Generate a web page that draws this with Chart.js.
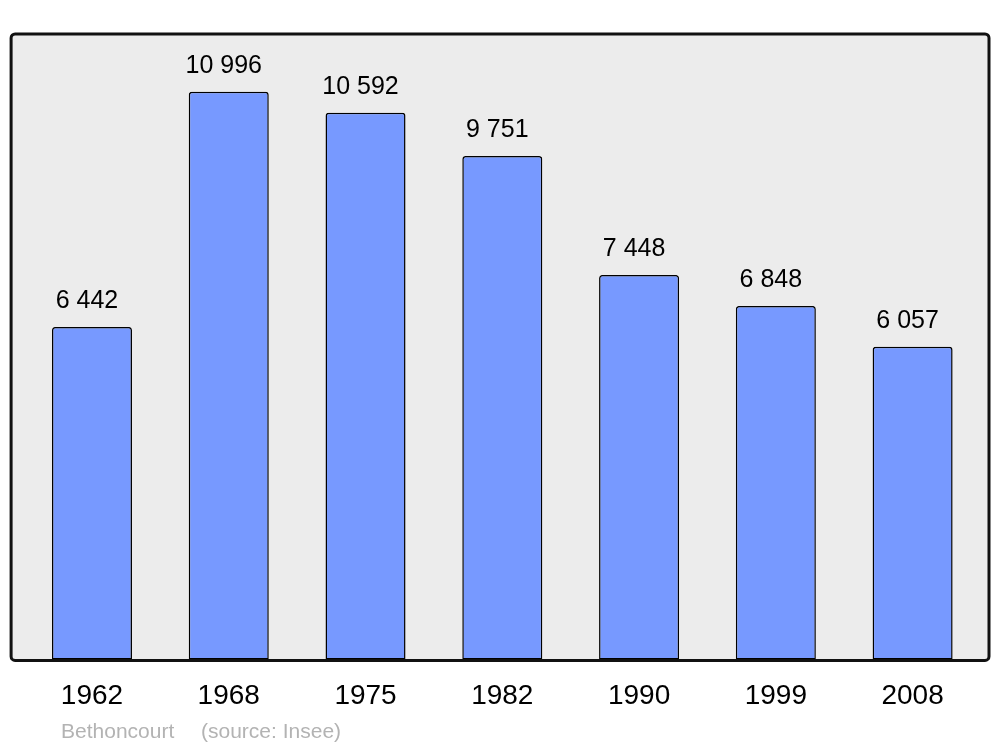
<!DOCTYPE html>
<html>
<head>
<meta charset="utf-8">
<title>Bethoncourt population</title>
<script src="https://cdn.jsdelivr.net/npm/chart.js@4/dist/chart.umd.min.js"></script>
<style>
  html, body { margin: 0; padding: 0; background: #fff; }
  #wrap { width: 1000px; height: 747px; position: relative; }
</style>
</head>
<body>
<div id="wrap"><canvas id="popChart"></canvas></div>
<script>
const years = ['1962', '1968', '1975', '1982', '1990', '1999', '2008'];
const population = [6442, 10996, 10592, 9751, 7448, 6848, 6057];
const footerName = 'Bethoncourt';
const footerSource = '(source: Insee)';

function formatNumber(n) {
    return String(n).replace(/\B(?=(\d{3})+(?!\d))/g, ' ');
}

// grey rounded frame behind the bars
const framePlugin = {
    id: 'frame',
    beforeDraw(chart) {
        const { ctx, chartArea } = chart;
        const x0 = chartArea.left - 12.5, x1 = chartArea.right + 8;
        const y0 = chartArea.top - 6, y1 = chartArea.bottom + 1;
        ctx.save();
        ctx.beginPath();
        ctx.roundRect(x0, y0, x1 - x0, y1 - y0, 4);
        ctx.fillStyle = '#ececec';
        ctx.fill();
        ctx.restore();
    },
    afterDatasetsDraw(chart) {
        const { ctx, chartArea } = chart;
        const x0 = chartArea.left - 12.5, x1 = chartArea.right + 8;
        const y0 = chartArea.top - 6, y1 = chartArea.bottom + 1;
        ctx.save();
        ctx.beginPath();
        ctx.roundRect(x0, y0, x1 - x0, y1 - y0, 4);
        ctx.lineWidth = 3;
        ctx.strokeStyle = '#111';
        ctx.stroke();

        // value labels above bars
        ctx.fillStyle = '#000';
        ctx.font = '25px "Liberation Sans", Arial, sans-serif';
        ctx.textAlign = 'center';
        ctx.textBaseline = 'alphabetic';
        chart.getDatasetMeta(0).data.forEach((bar, i) => {
            ctx.fillText(formatNumber(population[i]), bar.x - 5, bar.y - 19);
        });

        // footer
        ctx.fillStyle = '#b3b3b3';
        ctx.font = '21px "Liberation Sans", Arial, sans-serif';
        ctx.textAlign = 'left';
        ctx.fillText(footerName, 61, 738);
        ctx.fillText(footerSource, 201, 738);
        ctx.restore();
    }
};

new Chart(document.getElementById('popChart'), {
    type: 'bar',
    data: {
        labels: years,
        datasets: [{
            data: population,
            backgroundColor: '#7799ff',
            borderColor: '#000',
            borderWidth: 1.5,
            borderSkipped: false,
            borderRadius: { topLeft: 3, topRight: 3, bottomLeft: 0, bottomRight: 0 },
            barPercentage: 0.585,
            categoryPercentage: 1
        }]
    },
    options: {
        responsive: true,
        maintainAspectRatio: false,
        animation: false,
        layout: { padding: { left: 23.6, right: 19, top: 40, bottom: 14 } },
        plugins: {
            legend: { display: false },
            tooltip: { enabled: false }
        },
        scales: {
            x: {
                grid: { display: false, drawTicks: false },
                border: { display: false },
                ticks: {
                    color: '#000',
                    padding: 20,
                    font: { family: '"Liberation Sans", Arial, sans-serif', size: 28 }
                }
            },
            y: {
                display: false,
                min: 0,
                max: 12000
            }
        }
    },
    plugins: [framePlugin]
});
</script>
</body>
</html>
